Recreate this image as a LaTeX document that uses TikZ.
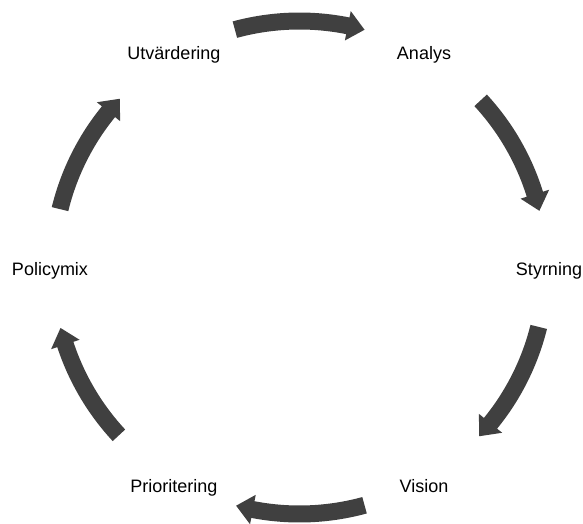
\documentclass[tikz,border=0pt]{standalone}
\usepackage{fontspec}
\setmainfont{Liberation Sans}
\definecolor{arrowgrey}{HTML}{404040}
\begin{document}
\begin{tikzpicture}[x=1pt,y=1pt,
  lbl/.style={anchor=base, inner sep=0pt, font=\fontsize{18}{21}\selectfont, text=black},
  blockarrow/.style={fill=arrowgrey, draw=none}]
\useasboundingbox (0,0) rectangle (583,523);
\coordinate (C) at (299.5,255.5);
% labels
\node[lbl] (analys) at (424,463) {Analys};
\node[lbl] (styrning) at (549,248) {Styrning};
\node[lbl] (vision) at (424,31) {Vision};
\node[lbl] (prio) at (174,31) {Prioritering};
\node[lbl] (policy) at (50,248) {Policymix};
\node[lbl] (utv) at (174,463) {Utvärdering};
% block arrows (clockwise): start angle / tip angle
\begin{scope}[shift={(C)}]
\foreach \sa/\ta in {105.2/74.7, 42.7/13.3, -13.95/-43.2, -74.7/-104.9, 222.9/194.2, 166.3/136.8}{
  \pgfmathsetmacro{\ba}{\ta+4}
  \fill[blockarrow] (\sa:255pt) arc[start angle=\sa, end angle=\ba, radius=255pt]
     -- (\ba:261.5pt) -- (\ta:246.5pt) -- (\ba:231.5pt) -- (\ba:238pt)
     arc[start angle=\ba, end angle=\sa, radius=238pt] -- cycle;
}
\end{scope}
\end{tikzpicture}
\end{document}
